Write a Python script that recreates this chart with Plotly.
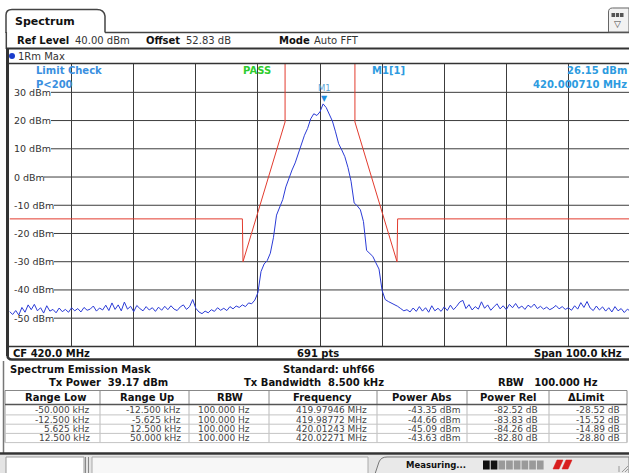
import plotly.graph_objects as go

W, H = 629, 473
FONT = "DejaVu Sans"

# ------------------------------------------------------------------ data
ref_level_dbm = 40
bottom_dbm = -60
trace_start_khz = -50.0
trace_step_khz = 0.5
trace_dbm = [
    -47.6, -48.7, -47.3, -48.9, -46.2, -47.9, -45.3, -47.0, -45.1, -47.4,
    -46.3, -48.2, -45.6, -47.5, -46.9, -48.1, -46.4, -47.7, -46.9, -47.9,
    -46.3, -47.4, -46.6, -47.8, -46.2, -47.2, -46.8, -45.7, -47.5, -46.4,
    -47.1, -45.4, -47.3, -44.6, -46.9, -45.3, -47.4, -44.3, -46.8, -45.8,
    -47.7, -45.5, -46.6, -47.4, -45.9, -47.1, -46.3, -47.6, -46.1, -47.2,
    -45.8, -47.0, -45.6, -46.8, -47.3, -46.0, -45.3, -46.9, -45.9, -43.4,
    -46.5, -47.8, -48.4, -47.5, -48.1, -47.0, -47.6, -46.3, -47.2, -46.5,
    -47.3, -45.9, -46.7, -45.7, -46.2, -45.3, -45.9, -44.6, -44.9, -43.6,
    -41.0, -33.5, -30.8, -29.6, -27.0, -21.5, -13.5, -11.0, -8.0, -3.5,
    -0.2, 2.5, 5.0, 8.5, 12.0, 14.8, 17.2, 20.6, 22.4, 21.8,
    23.1, 25.9, 24.6, 22.3, 19.8, 16.0, 11.8, 9.6, 7.2, 3.4,
    -1.5, -9.2, -10.2, -11.6, -15.8, -26.0, -27.2, -28.1, -30.4, -32.6,
    -40.2, -43.4, -44.1, -44.6, -45.2, -45.8, -46.6, -47.4, -47.0, -47.8,
    -46.4, -47.6, -45.9, -47.5, -46.3, -47.9, -45.6, -47.4, -46.5, -47.6,
    -46.0, -47.3, -45.4, -47.0, -45.8, -44.3, -43.7, -46.6, -45.2, -47.1,
    -45.9, -46.8, -44.2, -46.5, -45.3, -47.2, -46.0, -44.9, -46.7, -45.6,
    -47.0, -45.1, -46.3, -44.8, -46.5, -45.7, -46.9, -45.4, -46.2, -45.0,
    -46.6, -45.8, -46.8, -46.1, -47.0, -46.4, -45.5, -46.7, -45.9, -46.9,
    -46.3, -47.2, -45.6, -46.8, -44.5, -46.2, -44.1, -46.4, -47.3, -45.7,
    -47.1, -46.0, -47.5, -46.3, -47.8, -45.9, -47.4, -46.6, -48.0, -46.8,
    -47.6,
]
limit_khz = [-50, -12.5, -12.4, -5.625, -5.625, 5.625, 5.625, 12.4, 12.5, 50]
limit_dbm = [-14.83, -14.83, -30, 19.5, 60, 60, 19.5, -30, -14.83, -14.83]
marker_khz = 0.71
marker_dbm = 26.15
ytick_vals = [30, 20, 10, 0, -10, -20, -30, -40, -50]
ytick_text = ["30 dBm", "20 dBm", "10 dBm", "0 dBm", "-10 dBm", "-20 dBm",
              "-30 dBm", "-40 dBm", "-50 dBm"]

table_header = ["Range Low", "Range Up", "RBW", "Frequency", "Power Abs",
                "Power Rel", "\u0394Limit"]
range_low = ["-50.000 kHz", "-12.500 kHz", "5.625 kHz", "12.500 kHz"]
range_up = ["-12.500 kHz", "-5.625 kHz", "12.500 kHz", "50.000 kHz"]
rbw = ["100.000 Hz", "100.000 Hz", "100.000 Hz", "100.000 Hz"]
frequency = ["419.97946 MHz", "419.98772 MHz", "420.01243 MHz", "420.02271 MHz"]
power_abs = ["-43.35 dBm", "-44.66 dBm", "-45.09 dBm", "-43.63 dBm"]
power_rel = ["-82.52 dB", "-83.83 dB", "-84.26 dB", "-82.80 dB"]
delta_limit = ["-28.52 dB", "-15.52 dB", "-14.89 dB", "-28.80 dB"]

trace_khz = [trace_start_khz + trace_step_khz * i for i in range(len(trace_dbm))]

# ------------------------------------------------------------------ geometry helpers (pixels -> paper)
def X(p):
    return p / W


def Y(p):
    return 1 - p / H


def P(x, y):
    return f"{X(x):.5f},{Y(y):.5f}"


shapes = []
annotations = []
NB = "\u00a0"


def hline(y, x0, x1, color="#333", width=1, layer="above"):
    shapes.append(dict(type="line", xref="paper", yref="paper", x0=X(x0), x1=X(x1),
                       y0=Y(y), y1=Y(y), line=dict(color=color, width=width), layer=layer))


def vline(x, y0, y1, color="#333", width=1, layer="above"):
    shapes.append(dict(type="line", xref="paper", yref="paper", x0=X(x), x1=X(x),
                       y0=Y(y0), y1=Y(y1), line=dict(color=color, width=width), layer=layer))


def box(x0, y0, x1, y1, fill, line_color=None, width=1, layer="above"):
    shapes.append(dict(type="rect", xref="paper", yref="paper", x0=X(x0), x1=X(x1),
                       y0=Y(y1), y1=Y(y0), fillcolor=fill,
                       line=dict(color=line_color or fill, width=width if line_color else 0),
                       layer=layer))


def path(d, color="#333", width=1, fill=None, layer="above"):
    s = dict(type="path", xref="paper", yref="paper", path=d,
             line=dict(color=color, width=width), layer=layer)
    if fill:
        s["fillcolor"] = fill
    shapes.append(s)


def text(x, y, s, size=10, color="#111", anchor="left", bold=False):
    if bold:
        s = f"<b>{s}</b>"
    annotations.append(dict(xref="paper", yref="paper", x=X(x), y=Y(y), text=s,
                            showarrow=False, xanchor=anchor, yanchor="middle",
                            font=dict(family=FONT, size=size, color=color),
                            borderpad=0))


# ------------------------------------------------------------------ plot area
PLOT_L, PLOT_T, PLOT_B = 9.5, 64.1, 346.4
CENTER_PX, PX_PER_KHZ = 320.0, 6.21
x_right_khz = (W - CENTER_PX) / PX_PER_KHZ
GRID = "#3c3c3c"

fig = go.Figure()
fig.add_trace(go.Scatter(x=limit_khz, y=limit_dbm, mode="lines",
                         line=dict(color="#e23b2e", width=1), hoverinfo="skip"))
fig.add_trace(go.Scatter(x=trace_khz, y=trace_dbm, mode="lines",
                         line=dict(color="#2b3bd6", width=1), hoverinfo="skip"))

# horizontal grid lines start after the level labels
label_end = {30: 51, 20: 51, 10: 51, 0: 44}
for v, t in zip(ytick_vals, ytick_text):
    shapes.append(dict(type="line", xref="paper", yref="y", x0=X(label_end.get(v, 54)), x1=1,
                       y0=v, y1=v, line=dict(color=GRID, width=1), layer="below"))
    annotations.append(dict(xref="paper", yref="y", x=X(13), y=v, text=t, showarrow=False,
                            xanchor="left", yanchor="middle", borderpad=0,
                            font=dict(family=FONT, size=9.5, color="#333")))

# marker M1
annotations.append(dict(xref="x", yref="y", x=marker_khz, y=marker_dbm, text="\u25BC",
                        showarrow=False, yanchor="middle", yshift=5,
                        font=dict(family=FONT, size=8, color="#1f8fe0")))
annotations.append(dict(xref="x", yref="y", x=marker_khz, y=marker_dbm, text="M1",
                        showarrow=False, yanchor="middle", yshift=15,
                        font=dict(family=FONT, size=8.5, color="#5fa8d8")))

# in-plot texts
BLUE_TXT = "#3a8fe0"
text(35, 70.7, "Limit Check", 10, BLUE_TXT, bold=True)
text(35, 84.0, "P&lt;200", 10, BLUE_TXT, bold=True)
text(242, 70.7, "PASS", 10, "#2ecc2e", bold=True)
text(371, 70.7, "M1[1]", 10, "#2d9be0", bold=True)
text(628, 70.7, "26.15 dBm", 10, "#2d9be0", anchor="right", bold=True)
text(628, 84.0, "420.000710 MHz", 10, "#2d9be0", anchor="right", bold=True)

# ------------------------------------------------------------------ window frame
FR = "#333"
path(f"M {P(6,33)} L {P(6,15)} Q {P(6,9.5)} {P(12,9.5)} L {P(97,9.5)} "
     f"Q {P(104,9.5)} {P(105,16)} L {P(105,32.5)}", color="#444", width=1.5)
text(14, 21.5, "Spectrum", 11, "#111", bold=True)
hline(32.5, 105, 629, "#444", 1.5)
vline(6.3, 32, 49, "#444", 1.5)

# top-right icon
path(f"M {P(608.5,32)} L {P(608.5,12)} Q {P(608.5,8)} {P(612.5,8)} L {P(629,8)} L {P(629,32)} Z",
     color="#666", width=1, fill="#f2f2f2")
box(611.5, 13, 623.5, 17, "#555")
vline(615.5, 13, 17, "#ddd", 1)
vline(619.5, 13, 17, "#ddd", 1)
text(617.5, 23.5, "\u25BD", 9, "#444", anchor="center")

# header row
text(16, 41, "Ref Level", 10, "#111", bold=True)
text(74, 41, "40.00 dBm", 10, "#333")
text(145, 41, "Offset", 10, "#111", bold=True)
text(185, 41, "52.83 dB", 10, "#333")
text(278, 41, "Mode", 10, "#111", bold=True)
text(313, 41, "Auto FFT", 10, "#333")
hline(48.5, 6, 629, FR, 2)

# trace row
shapes.append(dict(type="circle", xref="paper", yref="paper", x0=X(9), x1=X(15),
                   y0=Y(59), y1=Y(53), fillcolor="#1a3ccc", line=dict(width=0)))
text(17, 56, "1Rm Max", 10, "#333")
hline(63.5, 6, 629, FR, 1.5)

# plot borders, CF row
vline(7.5, 48, 356, FR, 3)
hline(346.5, 6, 629, FR, 1.5)
path(f"M {P(7.5,355)} Q {P(7.5,359.5)} {P(12,359.5)} L {P(629,359.5)}", color=FR, width=2.5)
text(12, 353, "CF 420.0 MHz", 10, "#111", bold=True)
text(318, 353, "691 pts", 10, "#111", anchor="center", bold=True)
text(623, 353, "Span 100.0 kHz", 10, "#111", anchor="right", bold=True)

# ------------------------------------------------------------------ result summary
vline(3.5, 361, 453, "#777", 1.5)
text(8.5, 369, "Spectrum Emission Mask", 10, "#111", bold=True)
text(282, 369, "Standard: uhf66", 10, "#111", bold=True)
text(48, 382, f"Tx Power{NB}{NB}39.17 dBm", 10, "#111", bold=True)
text(243, 382, f"Tx Bandwidth{NB}{NB}8.500 kHz", 10, "#111", bold=True)
text(497, 382, f"RBW{NB}{NB}{NB}100.000 Hz", 10, "#111", bold=True)

# table
col_edges = [5, 100, 189, 269, 377, 467, 549, 627]
head_centers = [55.5, 147, 230, 322.5, 422, 508.5, 586]
value_right = [91, 182, 251, 368, 462, 539, 621]
row_y = [410.3, 419.6, 428.8, 437.9]
row_lines = [405, 414.9, 424.2, 433.4, 442.6]
box(col_edges[0], 390.5, col_edges[-1], 404.5, "#ffffff", "#888", 1)
for x in col_edges[1:-1]:
    vline(x, 390.5, 404.5, "#888", 1)
    vline(x, 404.5, 442.6, "#bbb", 1)
vline(col_edges[0], 404.5, 442.6, "#999", 1)
vline(col_edges[-1], 404.5, 442.6, "#999", 1)
hline(404.5, col_edges[0], col_edges[-1], "#555", 1.5)
for yl in row_lines[1:]:
    hline(yl, col_edges[0], col_edges[-1], "#c4c4c4", 1)
for cx, h in zip(head_centers, table_header):
    text(cx, 397.5, h, 10, "#111", anchor="center", bold=True)
columns = [range_low, range_up, rbw, frequency, power_abs, power_rel, delta_limit]
for xr, col in zip(value_right, columns):
    for yy, v in zip(row_y, col):
        text(xr, yy, v, 9, "#444", anchor="right")

# ------------------------------------------------------------------ status bar
hline(453.5, 0, 629, FR, 2.5)
box(0, 455, 629, 473, "#e4e4e4", layer="below")
box(6, 457, 84, 474, "#ffffff", "#9a9a9a", 1)
vline(85.5, 457, 473, "#888", 1)
vline(88.5, 457, 473, "#888", 1)
box(92, 457, 368, 474, "#f7f7f7", "#aaa", 1)
path(f"M {P(375,474)} L {P(379,462)} Q {P(381,457)} {P(387,457)} L {P(629,457)} L {P(629,474)} Z",
     color="#777", width=1, fill="#e9e9e9")
text(405, 465, "Measuring...", 8.5, "#111", bold=True)
seg_w = 7.7
for i in range(8):
    box(483 + i * seg_w, 460.5, 483 + (i + 1) * seg_w - 1, 469.5,
        "#111" if i < 2 else "#9a9a9a")
path(f"M {P(553,469)} L {P(557,460)} L {P(563,460)} L {P(559,469)} Z", color="#d81e1e", width=0.5,
     fill="#d81e1e")
path(f"M {P(562,469)} L {P(566,460)} L {P(572,460)} L {P(568,469)} Z", color="#d81e1e", width=0.5,
     fill="#d81e1e")
vline(619, 466, 472, "#999", 1)
path(f"M {P(622,472)} L {P(628,466)} M {P(625,472)} L {P(628,469)}", color="#999", width=1)

# ------------------------------------------------------------------ layout
fig.update_layout(
    width=W, height=H,
    margin=dict(l=0, r=0, t=0, b=0),
    paper_bgcolor="#ffffff", plot_bgcolor="#ffffff",
    showlegend=False,
    xaxis=dict(domain=[X(PLOT_L), 1], range=[-50, x_right_khz], showgrid=True,
               gridcolor=GRID, gridwidth=1, tick0=-50, dtick=10, zeroline=False,
               showticklabels=False, ticks="", showline=False, fixedrange=True),
    yaxis=dict(domain=[Y(PLOT_B), Y(PLOT_T)], range=[bottom_dbm, ref_level_dbm],
               showgrid=False, zeroline=False, showticklabels=False, ticks="",
               showline=False, fixedrange=True),
    shapes=shapes,
    annotations=annotations,
    font=dict(family=FONT, size=10, color="#111"),
)

fig.write_html(
    "out.html",
    config={"displayModeBar": False},
    post_script="document.body.style.margin='0px';document.body.style.padding='0px';"
                "document.body.style.overflow='hidden';",
)
